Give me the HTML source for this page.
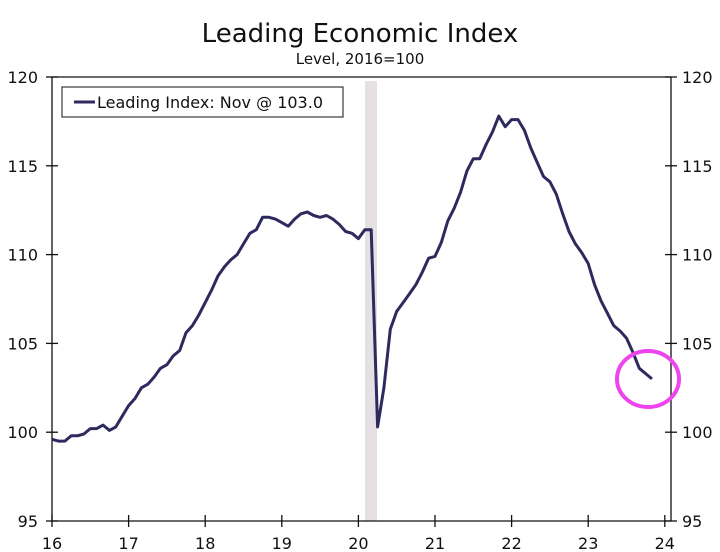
<!DOCTYPE html><html><head><style>body{margin:0;background:#fff}svg{display:block;font-family:"DejaVu Sans","Liberation Sans",sans-serif}</style></head><body>
<svg id="s" width="720" height="552" xmlns="http://www.w3.org/2000/svg">
<rect width="720" height="552" fill="#fff"/>
<text x="360" y="42" font-size="26" text-anchor="middle" fill="#111">Leading Economic Index</text>
<text x="360" y="64" font-size="15" text-anchor="middle" fill="#111">Level, 2016=100</text>
<rect x="365" y="81" width="12" height="440" fill="#e4e0e4"/>
<g stroke="#111" stroke-width="1.3" fill="none">
<line x1="52" y1="77" x2="52" y2="521"/><line x1="671" y1="77" x2="671" y2="521"/>
<line x1="52" y1="521" x2="671" y2="521"/><line x1="52" y1="77" x2="671" y2="77"/>
</g>
<g id="t" stroke="#111" stroke-width="1.3"></g>
<g id="l" font-size="16" fill="#111"></g>
<rect x="62" y="87" width="281" height="30" fill="#fff" stroke="#111" stroke-width="1"/>
<line x1="74" y1="102" x2="95" y2="102" stroke="#2e2a5e" stroke-width="3"/>
<text x="97" y="108" font-size="16" fill="#111">Leading Index: Nov @ 103.0</text>
<polyline id="p" fill="none" stroke="#2e2a5e" stroke-width="3" stroke-linejoin="round"/>
<ellipse cx="648" cy="379" rx="31" ry="28" fill="none" stroke="#ee44ee" stroke-width="4"/>
</svg>
<script>
var d=[99.6,99.5,99.5,99.8,99.8,99.9,100.2,100.2,100.4,100.1,100.3,100.9,
101.5,101.9,102.5,102.7,103.1,103.6,103.8,104.3,104.6,105.6,106.0,106.6,
107.3,108.0,108.8,109.3,109.7,110.0,110.6,111.2,111.4,112.1,112.1,112.0,
111.8,111.6,112.0,112.3,112.4,112.2,112.1,112.2,112.0,111.7,111.3,111.2,
110.9,111.4,111.4,100.3,102.5,105.8,106.8,107.3,107.8,108.3,109.0,109.8,
109.9,110.7,111.9,112.6,113.5,114.7,115.4,115.4,116.2,116.9,117.8,117.2,
117.6,117.6,117.0,116.0,115.2,114.4,114.1,113.4,112.3,111.3,110.6,110.1,
109.5,108.3,107.4,106.7,106.0,105.7,105.3,104.5,103.6,103.3,103.0];
function X(m){return 52+m*76.6/12}function Y(v){return 521-(v-95)*444/25}
document.getElementById('p').setAttribute('points',d.map((v,i)=>X(i).toFixed(1)+','+Y(v).toFixed(1)).join(' '));
var t='',l='';
for(var k=0;k<=5;k++){var v=95+5*k,y=Y(v);t+=`<line x1="52" y1="${y}" x2="58" y2="${y}"/><line x1="665" y1="${y}" x2="677" y2="${y}"/><line x1="46" y1="${y}" x2="52" y2="${y}"/>`;
l+=`<text x="38" y="${y+6}" text-anchor="end">${v}</text><text x="682" y="${y+6}">${v}</text>`;}
for(var k=0;k<=8;k++){var x=52+k*76.6;t+=`<line x1="${x}" y1="515" x2="${x}" y2="527"/>`;l+=`<text x="${x}" y="549" text-anchor="middle">${16+k}</text>`;}
document.getElementById('t').innerHTML=t;document.getElementById('l').innerHTML=l;
</script>
</body></html>
